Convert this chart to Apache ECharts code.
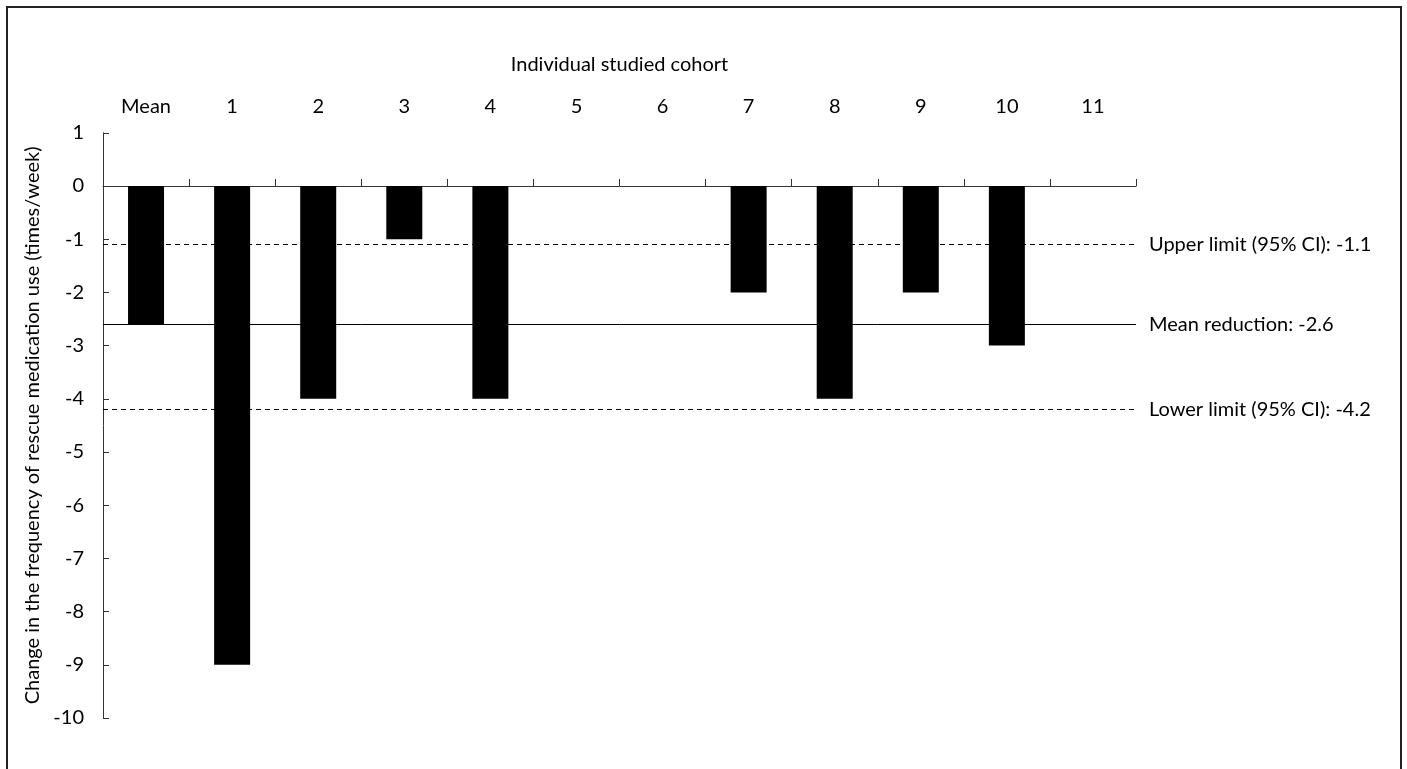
<!DOCTYPE html>
<html>
<head>
<meta charset="utf-8">
<script src="https://cdn.jsdelivr.net/npm/echarts@6/dist/echarts.min.js"></script>
<style>
html,body{margin:0;padding:0;background:#fff;}
#chart{width:1407px;height:769px;}
</style>
</head>
<body>
<div id="chart"></div>
<script>
var categories = ['Mean','1','2','3','4','5','6','7','8','9','10','11'];
var changeValues = [-2.6, -9, -4, -1, -4, 0, 0, -2, -4, -2, -3, 0];
var refValues = [-1.1, -2.6, -4.2];
var refLabels = ['Upper limit (95% CI): -1.1', 'Mean reduction: -2.6', 'Lower limit (95% CI): -4.2'];
var refDashed = [true, false, true];
var yTicks = { min: -10, max: 1, interval: 1 };

var FONT = 'Lato';
var FS = 20;
var chart = echarts.init(document.getElementById('chart'));
var markData = refValues.map(function (v, i) {
  return {
    yAxis: v,
    label: { formatter: refLabels[i] },
    lineStyle: { type: refDashed[i] ? [5, 4] : 'solid' }
  };
});
chart.setOption({
  backgroundColor: '#fff',
  animation: false,
  textStyle: { fontFamily: FONT },
  grid: { left: 103, right: 271, top: 132.8, bottom: 51 },
  graphic: [{
    type: 'rect',
    shape: { x: 7, y: 7, width: 1394, height: 800 },
    style: { fill: 'none', stroke: '#222', lineWidth: 2 }
  }],
  xAxis: {
    type: 'category',
    data: categories,
    position: 'top',
    name: 'Individual studied cohort',
    nameLocation: 'middle',
    nameGap: 58,
    nameTextStyle: { fontSize: FS, color: '#000', fontFamily: FONT },
    axisLine: { onZero: true, lineStyle: { color: '#333', width: 1 } },
    axisTick: { show: true, inside: false, length: 7, lineStyle: { color: '#333' } },
    axisLabel: { margin: 16, fontSize: FS, color: '#000', fontFamily: FONT },
    splitLine: { show: false }
  },
  yAxis: {
    type: 'value',
    min: yTicks.min,
    max: yTicks.max,
    interval: yTicks.interval,
    name: 'Change in the frequency of rescue medication use (times/week)',
    nameLocation: 'middle',
    nameGap: 51,
    nameTextStyle: { fontSize: FS, color: '#000', fontFamily: FONT },
    axisLine: { show: true, lineStyle: { color: '#333', width: 1 } },
    axisTick: { show: true, inside: true, length: 6, lineStyle: { color: '#333' } },
    axisLabel: { margin: 19, fontSize: FS, color: '#000', fontFamily: FONT },
    splitLine: { show: false }
  },
  series: [{
    type: 'bar',
    data: changeValues,
    barWidth: 36,
    itemStyle: { color: '#000' },
    markLine: {
      silent: true,
      symbol: ['none', 'none'],
      lineStyle: { color: '#000', width: 1 },
      label: { show: true, position: 'end', distance: 13, fontSize: FS, color: '#000', fontFamily: FONT },
      data: markData
    }
  }]
});
</script>
</body>
</html>
